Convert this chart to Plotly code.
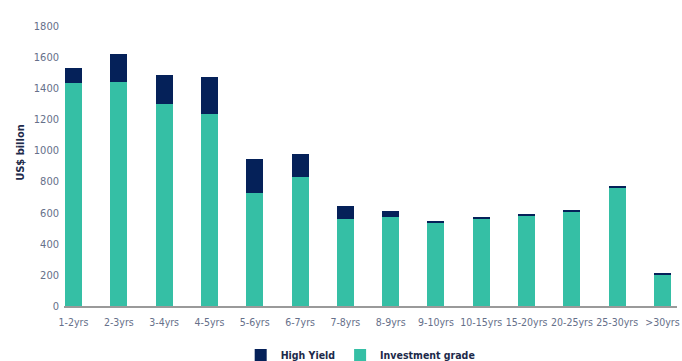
import plotly.graph_objects as go

categories = ["1-2yrs", "2-3yrs", "3-4yrs", "4-5yrs", "5-6yrs", "6-7yrs", "7-8yrs",
              "8-9yrs", "9-10yrs", "10-15yrs", "15-20yrs", "20-25yrs", "25-30yrs", ">30yrs"]
investment_grade = [1436, 1443, 1301, 1237, 729, 832, 562, 569, 537, 558, 584, 607, 762, 202]
high_yield = [97, 180, 187, 238, 219, 148, 84, 43, 12, 17, 4, 7, 6, 7]
y_ticks = [0, 200, 400, 600, 800, 1000, 1200, 1400, 1600, 1800]

TEAL = "#35BFA5"
NAVY = "#052159"
TICK = "#66708A"
FONT = "DejaVu Sans Condensed, Liberation Sans Narrow, sans-serif"

fig = go.Figure()
fig.add_trace(go.Bar(x=categories, y=investment_grade, name="<b>Investment grade</b>",
                     marker=dict(color=TEAL, line=dict(width=0))))
fig.add_trace(go.Bar(x=categories, y=high_yield, name="<b>High Yield</b>",
                     marker=dict(color=NAVY, line=dict(width=0))))

fig.update_layout(
    width=682, height=361,
    barmode="stack", bargap=0.625,
    plot_bgcolor="white", paper_bgcolor="white",
    margin=dict(l=64, r=5, t=26, b=55, autoexpand=False),
    font=dict(family=FONT, size=11, color=TICK),
    legend=dict(orientation="h", traceorder="reversed", x=0.484, xanchor="center",
                y=-0.175, yanchor="middle",
                font=dict(family=FONT, size=10.5, color="#1d2a4a"),
                itemwidth=30),
    showlegend=True,
    annotations=[dict(text="<b>US$ billon</b>", textangle=-90, xref="paper", yref="paper",
                      x=-0.072, y=0.55, xanchor="center", yanchor="middle", showarrow=False,
                      font=dict(family=FONT, size=11, color="#1d2a4a"))],
)
fig.update_xaxes(range=[-0.21, 13.32], showline=True, linecolor="#9a9a9a", linewidth=1.5,
                 ticks="", tickangle=0, automargin=False, ticklabelstandoff=6,
                 tickfont=dict(size=10.5, color=TICK), showgrid=False)
fig.update_yaxes(range=[0, 1800], tickvals=y_ticks, showgrid=False, zeroline=False,
                 showline=False, ticks="", ticklabelstandoff=4, automargin=False,
                 tickfont=dict(size=11, color=TICK))

fig.write_html("out.html")
